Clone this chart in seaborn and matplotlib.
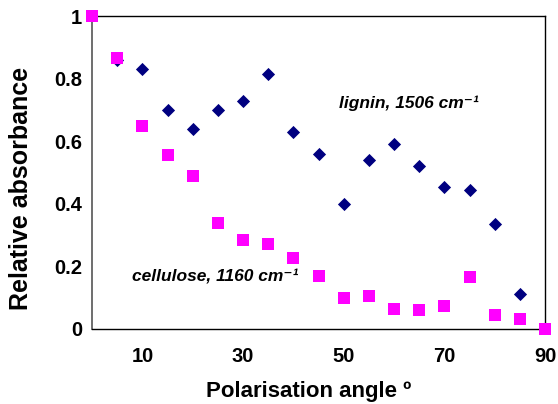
import matplotlib
matplotlib.use("Agg")
import matplotlib.pyplot as plt
import seaborn as sns
import pandas as pd

# polarisation angle (degrees)
lignin_angle = [5, 10, 15, 20, 25, 30, 35, 40, 45, 50, 55, 60, 65, 70, 75, 80, 85]
lignin_abs = [0.86, 0.83, 0.70, 0.64, 0.70, 0.73, 0.815, 0.63, 0.56, 0.40,
              0.54, 0.59, 0.52, 0.455, 0.445, 0.335, 0.11]

cellulose_angle = [0, 5, 10, 15, 20, 25, 30, 35, 40, 45, 50, 55, 60, 65, 70, 75, 80, 85, 90]
cellulose_abs = [1.0, 0.865, 0.65, 0.555, 0.49, 0.34, 0.285, 0.27, 0.225, 0.17,
                 0.10, 0.105, 0.065, 0.06, 0.072, 0.165, 0.045, 0.03, 0.0]

x_ticks = [10, 30, 50, 70, 90]
y_ticks = [0, 0.2, 0.4, 0.6, 0.8, 1]
y_ticklabels = ["0", "0.2", "0.4", "0.6", "0.8", "1"]

sns.set_style("white")
plt.rcParams['font.family'] = ['Liberation Sans', 'DejaVu Sans']
plt.rcParams['text.color'] = 'black'
plt.rcParams['axes.labelcolor'] = 'black'
plt.rcParams['xtick.color'] = 'black'
plt.rcParams['ytick.color'] = 'black'

lig = pd.DataFrame({"angle": lignin_angle, "abs": lignin_abs})
cel = pd.DataFrame({"angle": cellulose_angle, "abs": cellulose_abs})

fig = plt.figure(figsize=(5.58, 4.04), dpi=100)
ax = fig.add_axes([0.165, 0.186, 0.812, 0.774])

sns.scatterplot(data=lig, x="angle", y="abs", marker="D", color="#000080",
                s=45, edgecolor="#000080", linewidth=0, ax=ax, clip_on=False, zorder=3)
sns.scatterplot(data=cel, x="angle", y="abs", marker="s", color="#FF00FF",
                s=70, edgecolor="#FF00FF", linewidth=0, ax=ax, clip_on=False, zorder=4)

ax.set_xlim(0, 90)
ax.set_ylim(0, 1)
ax.set_xticks(x_ticks)
ax.set_yticks(y_ticks)
ax.set_yticklabels(y_ticklabels)
ax.tick_params(axis="both", direction="out", length=5, width=1.2,
               labelsize=14.5, pad=2)
ax.tick_params(axis="x", pad=8)
for lab in ax.get_xticklabels() + ax.get_yticklabels():
    lab.set_fontweight("bold")

for side in ["top", "right", "bottom"]:
    ax.spines[side].set_color("black")
    ax.spines[side].set_linewidth(1.0)
ax.spines["left"].set_color("#555555")
ax.spines["left"].set_linewidth(1.2)

ax.set_xlabel("Polarisation angle º", fontsize=16, fontweight="bold")
ax.set_ylabel("Relative absorbance", fontsize=18, fontweight="bold")
ax.xaxis.set_label_coords(0.478, -0.166)
ax.yaxis.set_label_coords(-0.13, 0.45)

ax.text(49, 0.72, "lignin, 1506 cm⁻¹", fontsize=12.5, fontweight="bold",
        style="italic", ha="left", va="center")
ax.text(8, 0.168, "cellulose, 1160 cm⁻¹", fontsize=12.5, fontweight="bold",
        style="italic", ha="left", va="center")

fig.savefig("out.png", dpi=100)
